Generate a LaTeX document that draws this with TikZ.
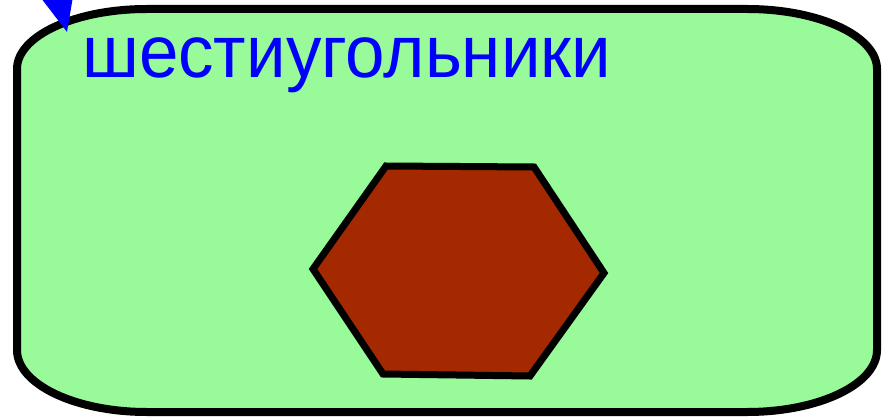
\documentclass[tikz,border=0pt]{standalone}
\usepackage{fontspec}
\setmainfont{Liberation Sans}
\usetikzlibrary{arrows.meta}
\definecolor{boxgreen}{RGB}{152,250,152}
\definecolor{hexbrown}{RGB}{164,41,0}
\definecolor{txtblue}{RGB}{0,0,255}
\tikzset{
  boxframe/.style={draw=black, line width=8pt, fill=boxgreen, line join=round},
  hexshape/.style={draw=black, line width=7pt, fill=hexbrown, line join=miter},
  labeltext/.style={text=txtblue, inner sep=0pt, font=\fontsize{74}{90}\selectfont, xscale=0.958},
  bluearrow/.style={draw=txtblue, line width=3pt, -{Triangle[length=40pt,width=34pt]}}
}
\begin{document}
\begin{tikzpicture}[x=1pt,y=1pt]
\useasboundingbox (0,0) rectangle (890,418);
% rounded frame with elliptical corners
\path[boxframe] (17,68) -- (17,349)
  arc[start angle=180, end angle=90, x radius=130, y radius=60] -- (747,409)
  arc[start angle=90, end angle=0, x radius=130, y radius=60] -- (877,68)
  arc[start angle=0, end angle=-90, x radius=130, y radius=62] -- (147,6)
  arc[start angle=-90, end angle=-180, x radius=130, y radius=62] -- cycle;
% hexagon
\coordinate (h1) at (386,252);
\coordinate (h2) at (534,251);
\coordinate (h3) at (604,145);
\coordinate (h4) at (530,42);
\coordinate (h5) at (383,44);
\coordinate (h6) at (313,149);
\path[hexshape] (h1) -- (h2) -- (h3) -- (h4) -- (h5) -- (h6) -- cycle;
% label
\node[labeltext, anchor=base west] (lbl) at (82,340) {шестиугольники};
% incoming arrow from outside
\coordinate (src) at (43,483);
\coordinate (tip) at (67,386);
\draw[bluearrow] (src) -- (tip);
\end{tikzpicture}
\end{document}
